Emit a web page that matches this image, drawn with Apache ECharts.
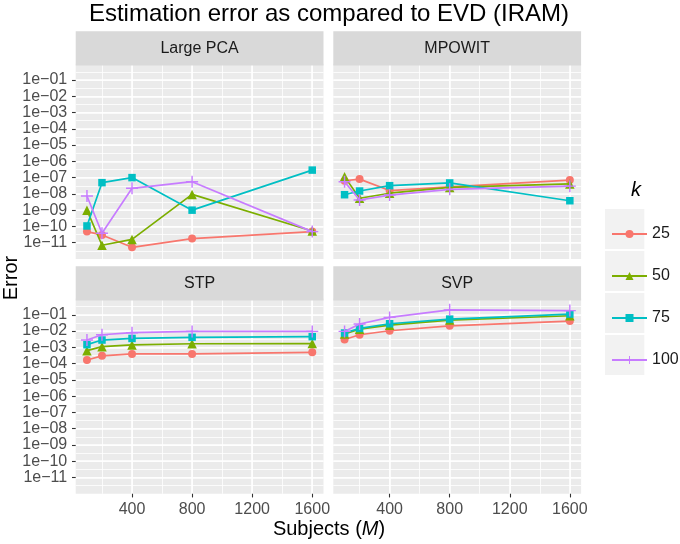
<!DOCTYPE html>
<html><head><meta charset="utf-8">
<script src="https://cdn.jsdelivr.net/npm/echarts@6/dist/echarts.min.js"></script>
<style>html,body{margin:0;padding:0;background:#fff}#c{width:680px;height:544px}</style>
</head><body><div id="c"></div>
<script>
// ---------------- data ----------------
const subjects = [100, 200, 400, 800, 1600];
const kLevels = ['25', '50', '75', '100'];
const panelNames = ['Large PCA', 'MPOWIT', 'STP', 'SVP'];

const largePCA_25  = [4.8e-11, 3.0e-11, 5.2e-12, 1.8e-11, 4.8e-11];
const largePCA_50  = [1.0e-9, 7.0e-12, 1.6e-11, 9.3e-9, 5.2e-11];
const largePCA_75  = [1.07e-10, 4.9e-8, 1.0e-7, 1.0e-9, 2.9e-7];
const largePCA_100 = [7.4e-9, 3.8e-11, 2.2e-8, 5.6e-8, 4.8e-11];

const mpowit_25  = [6.4e-8, 8.1e-8, 1.6e-8, 2.7e-8, 7.1e-8];
const mpowit_50  = [1.15e-7, 5.4e-9, 1.1e-8, 2.5e-8, 4.1e-8];
const mpowit_75  = [8.9e-9, 1.5e-8, 3.2e-8, 4.7e-8, 3.8e-9];
const mpowit_100 = [5.6e-8, 4.2e-9, 8.5e-9, 1.9e-8, 3.0e-8];

const stp_25  = [1.66e-4, 3.0e-4, 3.9e-4, 3.9e-4, 4.9e-4];
const stp_50  = [6.2e-4, 1.1e-3, 1.4e-3, 1.65e-3, 1.7e-3];
const stp_75  = [1.45e-3, 2.8e-3, 3.5e-3, 4.1e-3, 4.5e-3];
const stp_100 = [2.8e-3, 5.9e-3, 7.9e-3, 9.5e-3, 9.5e-3];

const svp_25  = [3.0e-3, 5.9e-3, 1.04e-2, 2.1e-2, 4.1e-2];
const svp_50  = [6.6e-3, 1.3e-2, 2.3e-2, 4.7e-2, 8.7e-2];
const svp_75  = [7.6e-3, 1.45e-2, 2.8e-2, 5.4e-2, 0.11];
const svp_100 = [9.5e-3, 2.7e-2, 6.9e-2, 0.20, 0.18];

const xTickValues = [400, 800, 1200, 1600];
const xTickLabels = ['400', '800', '1200', '1600'];
const yTickValues = [1e-1, 1e-2, 1e-3, 1e-4, 1e-5, 1e-6, 1e-7, 1e-8, 1e-9, 1e-10, 1e-11];
const yTickLabels = ['1e−01','1e−02','1e−03','1e−04','1e−05','1e−06','1e−07','1e−08','1e−09','1e−10','1e−11'];

// ---------------- style / layout ----------------
const FONT = "'Liberation Sans', Arial, Helvetica, sans-serif";
const colors = ['#F8766D', '#7CAE00', '#00BFC4', '#C77CFF'];
const PLUS = 'path://M4.4,0H5.6V4.4H10V5.6H5.6V10H4.4V5.6H0V4.4H4.4Z';
const symbols = ['circle', 'triangle', 'rect', PLUS];
const symbolSizes = [8, 9.5, 7.5, 12];

const colX = [75.7, 333.3];
const PW = 247.8;
const rowY = [63.73, 298.5];
const PH = 195.24;
const stripTop = [31.2, 266.2];
const STRIP_H = 34.4;

const panels = [
  { name: panelNames[0], series: [largePCA_25, largePCA_50, largePCA_75, largePCA_100], col: 0, row: 0 },
  { name: panelNames[1], series: [mpowit_25, mpowit_50, mpowit_75, mpowit_100], col: 1, row: 0 },
  { name: panelNames[2], series: [stp_25, stp_50, stp_75, stp_100], col: 0, row: 1 },
  { name: panelNames[3], series: [svp_25, svp_50, svp_75, svp_100], col: 1, row: 1 }
];

const grid = [], xAxis = [], yAxis = [], series = [], graphics = [];

function yLabel(v) {
  for (let i = 0; i < yTickValues.length; i++) {
    if (Math.abs(Math.log10(v) - Math.log10(yTickValues[i])) < 1e-6) return yTickLabels[i];
  }
  return '';
}
function xLabel(v) {
  const i = xTickValues.indexOf(Math.round(v));
  return i >= 0 ? xTickLabels[i] : '';
}

panels.forEach((p, gi) => {
  const showX = p.row === 1;
  const showY = p.col === 0;
  grid.push({
    left: colX[p.col], top: rowY[p.row], width: PW, height: PH,
    show: true, backgroundColor: '#EBEBEB', borderWidth: 0, containLabel: false, outerBoundsMode: 'none'
  });
  // major x axis
  xAxis.push({
    gridIndex: gi, type: 'value', min: 25, max: 1675, minInterval: 400, maxInterval: 400,
    axisLine: { show: false },
    axisTick: { show: showX, length: 3.7, customValues: xTickValues, lineStyle: { color: '#333333', width: 1.1 } },
    axisLabel: { show: showX, customValues: xTickValues, formatter: xLabel, hideOverlap: false,
                 margin: 8, color: '#4D4D4D', fontSize: 16, fontFamily: FONT },
    splitLine: { show: true, lineStyle: { color: '#FFFFFF', width: 1.6 } },
    z: 1
  });
  // minor x axis (grid lines only)
  xAxis.push({
    gridIndex: gi, type: 'value', min: 25, max: 1675, minInterval: 200, maxInterval: 200,
    axisLine: { show: false }, axisTick: { show: false }, axisLabel: { show: false },
    splitLine: { show: true, showMinLine: false, showMaxLine: false, lineStyle: { color: '#FFFFFF', width: 0.8 } },
    z: 0
  });
  // major y axis
  yAxis.push({
    gridIndex: gi, type: 'log', logBase: 10, min: 1e-12, max: 1, interval: 1,
    axisLine: { show: false },
    axisTick: { show: showY, length: 3.7, lineStyle: { color: '#333333', width: 1.1 } },
    axisLabel: { show: showY, formatter: yLabel, margin: 8.5, color: '#4D4D4D', fontSize: 16, fontFamily: FONT,
                 showMinLabel: false, showMaxLabel: false },
    splitLine: { show: true, showMinLine: false, showMaxLine: false, lineStyle: { color: '#FFFFFF', width: 1.6 } },
    z: 1
  });
  // minor y axis (grid lines only)
  yAxis.push({
    gridIndex: gi, type: 'log', logBase: 10, min: 1e-12, max: 1, interval: 0.5, position: 'right',
    axisLine: { show: false }, axisTick: { show: false }, axisLabel: { show: false },
    splitLine: { show: true, showMinLine: false, showMaxLine: false, lineStyle: { color: '#FFFFFF', width: 0.8 } },
    z: 0
  });
  p.series.forEach((vals, si) => {
    series.push({
      type: 'line', name: kLevels[si],
      xAxisIndex: gi * 2, yAxisIndex: gi * 2,
      data: subjects.map((x, i) => [x, vals[i]]),
      symbol: symbols[si], symbolSize: symbolSizes[si], showSymbol: true,
      lineStyle: { color: colors[si], width: 1.7 },
      itemStyle: { color: colors[si], borderWidth: 0 },
      emphasis: { disabled: true },
      animation: false, silent: true, z: 3 + si
    });
  });
  // strip
  graphics.push({
    type: 'rect', z: 100,
    shape: { x: colX[p.col], y: stripTop[p.row], width: PW, height: STRIP_H },
    style: { fill: '#D9D9D9' }
  });
  graphics.push({
    type: 'text', z: 101,
    x: colX[p.col] + PW / 2, y: stripTop[p.row] + STRIP_H / 2,
    style: { text: p.name, fill: '#1A1A1A', fontSize: 16, fontFamily: FONT, align: 'center', verticalAlign: 'middle' }
  });
});

// title & axis titles
graphics.push({
  type: 'text', z: 101, x: 329, y: 14,
  style: { text: 'Estimation error as compared to EVD (IRAM)', fill: '#000000', fontSize: 24, fontFamily: FONT,
           align: 'center', verticalAlign: 'middle' }
});
graphics.push({
  type: 'text', z: 101, x: 329, y: 529,
  style: {
    text: '{a|Subjects (}{b|M}{a|)}', align: 'center', verticalAlign: 'middle',
    rich: {
      a: { fontSize: 20, fontFamily: FONT, fill: '#000000', color: '#000000' },
      b: { fontSize: 20, fontFamily: FONT, fontStyle: 'italic', fill: '#000000', color: '#000000' }
    }
  }
});
graphics.push({
  type: 'text', z: 101, x: 11, y: 278, rotation: Math.PI / 2,
  style: { text: 'Error', fill: '#000000', fontSize: 20, fontFamily: FONT, align: 'center', verticalAlign: 'middle' }
});
// legend title & key backgrounds
graphics.push({
  type: 'text', z: 101, x: 636, y: 190,
  style: { text: 'k', fill: '#000000', fontSize: 20, fontStyle: 'italic', fontFamily: FONT, align: 'center', verticalAlign: 'middle' }
});
kLevels.forEach((k, i) => {
  graphics.push({
    type: 'rect', z: 1,
    shape: { x: 605, y: 209 + i * 42, width: 39.3, height: 40 },
    style: { fill: '#F2F2F2' }
  });
});

const option = {
  animation: false,
  backgroundColor: '#FFFFFF',
  grid, xAxis, yAxis, series,
  legend: {
    orient: 'vertical', left: 606, top: 209,
    itemWidth: 35, itemHeight: 10, itemGap: 2,
    data: kLevels, selectedMode: false, z: 20,
    textStyle: { fontSize: 16, color: '#1A1A1A', fontFamily: FONT, lineHeight: 40 }
  },
  graphic: { elements: graphics }
};

const chart = echarts.init(document.getElementById('c'), null, { renderer: 'canvas' });
chart.setOption(option);
</script>
</body></html>
